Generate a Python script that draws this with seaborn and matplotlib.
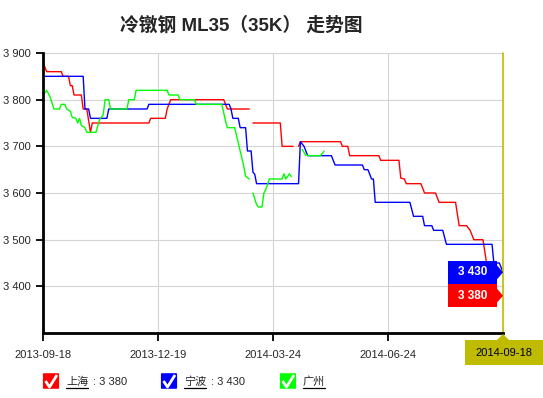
import numpy as np
import pandas as pd
import matplotlib
matplotlib.use("Agg")
import matplotlib.pyplot as plt
import seaborn as sns
from matplotlib.patches import Rectangle, FancyBboxPatch, Polygon
from matplotlib.lines import Line2D

title = "冷镦钢 ML35（35K） 走势图"
cities = ["上海", "宁波", "广州"]
colors = ["#ff0000", "#0000ff", "#00ff00"]
last_vals = ["3 380", "3 430", None]
date_labels = ["2013-09-18", "2013-12-19", "2014-03-24", "2014-06-24", "2014-09-18"]
date_pos = [0, 63, 126, 189, 252]
y_ticks = [3400, 3500, 3600, 3700, 3800, 3900]

# trading day index / price, None = no quote that day
sh_day = [0, 2, 10, 11, 14, 15, 16, 17, 21, 22, 24, 26, 27, 58, 59, 67, 68, 70, 99, 101,
          113, None, 115, 130, 131, 137, None, 140, 141, 163, 164, 167, 168, 184, 185, 195,
          196, 198, 199, 207, 209, 215, 217, 226, 228, 232, 234, 236, 241, 243, 245, 252]
sh_price = [3880, 3860, 3860, 3850, 3850, 3830, 3830, 3810, 3810, 3780, 3780, 3730, 3750, 3750,
            3760, 3760, 3780, 3800, 3800, 3780, 3780, None, 3750, 3750, 3700, 3700, None, 3700,
            3710, 3710, 3700, 3700, 3680, 3680, 3670, 3670, 3632, 3630, 3620, 3620, 3600, 3600,
            3580, 3580, 3530, 3530, 3520, 3500, 3500, 3450, 3380, 3380]

nb_day = [0, 22, 23, 25, 26, 35, 36, 57, 58, 102, 103, 104, 107, 108, 111, 112, 114, 115, 116,
          117, 140, 141, 143, 145, 158, 160, 175, 176, 178, 180, 181, 182, 201, 203, 208, 209,
          213, 214, 219, 221, 246, 247, 250, 252]
nb_price = [3850, 3850, 3780, 3780, 3760, 3760, 3780, 3780, 3790, 3790, 3780, 3760, 3760, 3740,
            3740, 3690, 3690, 3645, 3640, 3620, 3620, 3710, 3700, 3680, 3680, 3660, 3660, 3650,
            3650, 3630, 3630, 3580, 3580, 3550, 3550, 3530, 3530, 3520, 3520, 3490, 3490, 3450,
            3450, 3430]

gz_day = [0, 2, 4, 6, 9, 10, 12, 13, 15, 16, 18, 19, 20, 21, 23, 24, 29, 31, 33, 34, 36, 37,
          46, 47, 50, 51, 68, 69, 74, 75, 83, 84, 98, 100, 101, 105, 107, 110, 111, 113, None,
          115, 117, 118, 120, 121, 122, 124, 131, 132, 133, 135, 136, None, 142, 144, 146, 152, 154]
gz_price = [3810, 3820, 3805, 3780, 3780, 3790, 3790, 3780, 3775, 3762, 3760, 3750, 3760, 3745,
            3740, 3730, 3730, 3757, 3768, 3800, 3800, 3780, 3780, 3800, 3800, 3820, 3820, 3810,
            3810, 3800, 3800, 3790, 3790, 3754, 3740, 3740, 3707, 3657, 3636, 3630, None, 3600,
            3575, 3570, 3570, 3600, 3607, 3630, 3630, 3641, 3630, 3641, 3635, None, 3693, 3681,
            3680, 3680, 3690]

series = [(sh_day, sh_price), (nb_day, nb_price), (gz_day, gz_price)]

sns.set_style("white")
plt.rcParams["font.family"] = ["Liberation Sans", "Noto Sans CJK SC", "DejaVu Sans"]

W, H = 543, 398
fig = plt.figure(figsize=(W / 100, H / 100), dpi=100)
ax = fig.add_axes([43 / W, 1 - 333 / H, 460 / W, 280 / H])


def segments(days, prices):
    df = pd.DataFrame({"day": days, "price": prices})
    grp = df["day"].isna().cumsum()
    for _, part in df.dropna().groupby(grp[df["day"].notna()]):
        yield part


for (days, prices), c in zip(series, colors):
    for part in segments(days, prices):
        sns.lineplot(data=part, x="day", y="price", color=c, lw=1, ax=ax,
                     legend=False, estimator=None)

ax.set_xlim(0, 252)
ax.set_ylim(3300, 3900)
ax.set_xticks(date_pos)
ax.set_xticklabels(date_labels[:-1] + [""])
ax.set_yticks(y_ticks)
ax.set_yticklabels([f"{v // 1000} {v % 1000:03d}" for v in y_ticks])
ax.set_xlabel("")
ax.set_ylabel("")
ax.grid(True, color="#d4d4d4", lw=0.8)
for s in ["top", "right"]:
    ax.spines[s].set_visible(False)
for s in ["left", "bottom"]:
    ax.spines[s].set_linewidth(2)
    ax.spines[s].set_color("black")
    ax.spines[s].set_zorder(5)
ax.tick_params(axis="x", length=6, width=1.3, color="black", pad=6, labelsize=8,
               bottom=True)
ax.tick_params(axis="y", length=5, width=1.3, color="black", pad=4, labelsize=8,
               left=True)

olive = "#bfbb00"
ax.axvline(252, color=olive, lw=1.2, zorder=4, clip_on=False)

# end-value flags
for days, prices, c, lab in [(nb_day, nb_price, colors[1], last_vals[1]),
                             (sh_day, sh_price, colors[0], last_vals[0])]:
    v = prices[-1]
    x_end = days[-1]
    right = x_end - 3.3
    ax.add_patch(Rectangle((right - 26.8, v - 24.8), 26.8, 49.6, facecolor=c,
                           edgecolor="none", zorder=6, clip_on=False))
    ax.add_patch(Polygon([(right, v + 15), (x_end, v), (right, v - 15)], closed=True,
                         facecolor=c, edgecolor="none", zorder=6, clip_on=False))
    ax.text(right - 13.4, v, lab, color="white", fontsize=8.5, fontweight="bold",
            ha="center", va="center", zorder=7)

# last date flag
fig.add_artist(Rectangle((465 / W, 1 - 365 / H), 78 / W, 25 / H, transform=fig.transFigure,
                         facecolor=olive, edgecolor="none"))
fig.add_artist(Polygon([(497 / W, 1 - 340 / H), (503 / W, 1 - 334 / H), (509 / W, 1 - 340 / H)],
                       closed=True, transform=fig.transFigure, facecolor=olive,
                       edgecolor="none"))
fig.text(504 / W, 1 - 352.5 / H, date_labels[-1], fontsize=8, ha="center", va="center",
         color="black", zorder=5)

fig.text(241 / W, 1 - 26 / H, title, fontsize=13.5, fontweight="bold", ha="center",
         va="center")

# legend
leg_x = [43, 161, 280]
for x0, name, c, lab in zip(leg_x, cities, colors, last_vals):
    fig.add_artist(FancyBboxPatch(((x0 + 1) / W, 1 - 388 / H), 14 / W, 14 / H,
                                  boxstyle="round,pad=0.002", transform=fig.transFigure,
                                  facecolor=c, edgecolor="none"))
    fig.add_artist(Line2D([(x0 + 2.5) / W, (x0 + 6.5) / W, (x0 + 14) / W],
                          [1 - 381 / H, 1 - 387 / H, 1 - 375 / H], transform=fig.transFigure,
                          color="white", lw=2, solid_capstyle="butt"))
    fig.text((x0 + 23) / W, 1 - 382 / H, name, fontsize=8, ha="left", va="center")
    fig.add_artist(Line2D([(x0 + 23) / W, (x0 + 45) / W], [1 - 388 / H, 1 - 388 / H],
                          transform=fig.transFigure, color="black", lw=0.9))
    if lab:
        fig.text((x0 + 50) / W, 1 - 382 / H, ": " + lab, fontsize=8, ha="left",
                 va="center")

fig.savefig("out.png", dpi=100)
